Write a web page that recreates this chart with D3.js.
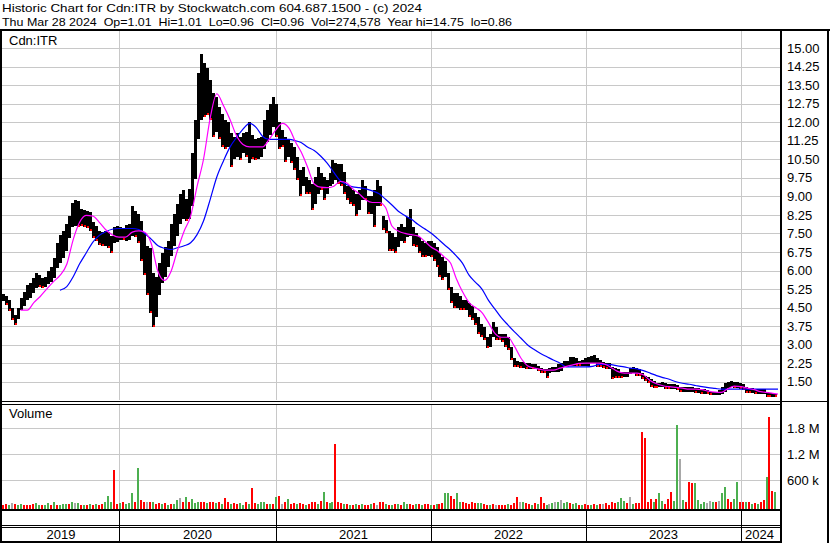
<!DOCTYPE html>
<html>
<head>
<meta charset="utf-8">
<script src="https://cdn.jsdelivr.net/npm/d3@7"></script>
<style>
  body { margin: 0; background: #fff; }
  text { font-family: Arial, "Liberation Sans", sans-serif; font-size: 13px; fill: #000; }
  text.head { font-size: 11.5px; }
</style>
</head>
<body>
<div id="chart"></div>
<script>
// Header texts
var title1 = "Historic Chart for Cdn:ITR by Stockwatch.com 604.687.1500 - (c) 2024";
var title2 = "Thu Mar 28 2024  Op=1.01  Hi=1.01  Lo=0.96  Cl=0.96  Vol=274,578  Year hi=14.75  lo=0.86";

// Axis ticks
var priceTicks = [15, 14.25, 13.5, 12.75, 12, 11.25, 10.5, 9.75, 9, 8.25, 7.5, 6.75, 6, 5.25, 4.5, 3.75, 3, 2.25, 1.5];
var volTicks = [600000, 1200000, 1800000];
var years = [2019, 2020, 2021, 2022, 2023, 2024];

// Weekly bars: [high, low, volume (thousands), volume colour r/g/n]
var weeks2019 = [
  [5.05,4.75,40,"r"],[4.95,4.6,60,"r"],[4.8,4.35,30,"g"],[4.5,4.0,85,"n"],[4.2,3.8,50,"r"],
  [4.5,4.05,30,"g"],[4.9,4.4,45,"g"],[5.15,4.55,25,"r"],[5.4,4.8,35,"r"],[5.5,4.9,40,"r"],
  [5.7,5.1,60,"r"],[5.9,5.3,85,"g"],[5.8,5.35,30,"g"],[5.7,5.3,25,"r"],[5.75,5.35,20,"g"],
  [6.0,5.45,70,"g"],[6.15,5.55,30,"r"],[6.5,5.7,105,"g"],[7.1,6.1,40,"r"],[7.45,6.3,35,"g"],
  [7.6,6.5,45,"g"],[7.9,6.8,60,"g"],[8.2,7.3,55,"r"],[8.75,7.75,100,"g"],[8.85,7.8,80,"n"],
  [8.8,7.75,75,"g"],[8.5,7.8,30,"r"],[8.45,7.75,25,"g"],[8.4,7.7,30,"r"],[8.35,7.6,45,"g"],
  [7.95,7.3,40,"r"],[7.8,7.2,45,"g"],[7.6,7.05,40,"r"],[7.55,7.0,60,"r"],[7.6,7.0,100,"g"],
  [7.55,6.9,240,"g"],[7.4,6.7,90,"g"],[7.75,7.1,840,"r"],[7.8,7.15,60,"r"]
];
var weeks2020 = [
  [7.75,7.25,70,"g"],[7.7,7.25,100,"r"],[7.85,7.2,60,"g"],[7.9,7.25,80,"g"],[8.6,7.4,300,"g"],
  [8.4,7.35,110,"r"],[8.3,7.1,880,"g"],[8.0,6.4,150,"r"],[7.5,5.8,100,"r"],[7.0,5.0,90,"n"],
  [6.9,4.3,110,"r"],[5.9,3.73,90,"g"],[5.75,4.1,60,"r"],[6.3,5.0,70,"r"],[6.7,5.5,50,"g"],
  [6.95,5.75,80,"r"],[7.2,6.15,40,"g"],[7.9,6.6,55,"r"],[8.3,7.0,60,"g"],[8.7,7.4,150,"g"],
  [9.1,7.9,190,"n"],[9.25,8.1,110,"r"],[8.9,8.0,220,"g"],[9.3,8.1,100,"r"],[10.75,8.6,160,"g"],
  [12.1,9.7,80,"g"],[14.0,11.3,100,"g"],[14.75,12.1,90,"r"],[14.4,12.2,110,"r"],[14.2,12.3,80,"g"],
  [13.7,12.1,110,"r"],[13.2,11.4,90,"r"],[13.0,11.6,70,"g"],[12.6,11.3,100,"r"],[12.35,11.0,60,"g"],
  [12.1,10.9,200,"r"],[12.0,11.0,90,"r"],[11.55,10.2,60,"g"],[11.4,10.5,70,"r"],[11.55,10.6,60,"r"],
  [11.4,10.45,70,"g"],[11.55,10.75,40,"g"],[11.6,10.6,110,"r"],[12.0,10.35,60,"g"],[11.5,10.5,430,"r"],
  [11.3,10.45,70,"r"],[11.35,10.5,60,"g"],[11.4,10.6,100,"g"],[12.1,10.9,90,"g"],[12.5,11.2,60,"r"],
  [12.75,11.5,50,"g"],[13.0,11.8,60,"r"]
];
var weeks2021 = [
  [12.75,11.4,220,"g"],[12.0,10.9,240,"r"],[11.7,11.0,60,"n"],[11.4,10.4,100,"r"],[11.3,10.6,175,"g"],
  [11.15,10.35,60,"r"],[11.0,10.05,80,"r"],[10.6,9.65,50,"g"],[10.05,9.0,70,"r"],[10.2,9.4,50,"r"],
  [9.8,9.1,40,"g"],[9.65,9.1,60,"r"],[9.5,8.45,100,"r"],[9.8,8.7,90,"r"],[10.2,9.1,60,"g"],
  [9.95,9.25,120,"r"],[9.8,8.85,340,"g"],[9.65,9.1,100,"r"],[9.95,9.4,80,"g"],[10.45,9.5,110,"g"],
  [10.35,9.65,1440,"r"],[10.3,9.5,110,"r"],[10.3,9.4,70,"r"],[10.0,9.1,60,"g"],[9.4,8.85,45,"r"],
  [9.4,8.7,40,"g"],[9.25,8.6,35,"r"],[9.1,8.2,50,"g"],[9.25,8.45,40,"r"],[9.65,8.85,60,"g"],
  [9.4,8.85,40,"r"],[9.0,8.3,35,"r"],[9.0,8.3,60,"g"],[9.25,7.77,70,"r"],[9.65,8.6,40,"n"],
  [9.4,8.6,110,"r"],[8.2,7.65,100,"r"],[8.05,7.5,60,"g"],[7.6,6.8,40,"r"],[7.5,6.8,40,"g"],
  [7.35,6.7,60,"r"],[7.75,6.95,45,"g"],[7.9,7.2,40,"r"],[7.75,7.1,90,"g"],[8.15,7.35,60,"g"],
  [8.5,7.4,60,"r"],[7.75,7.0,40,"r"],[7.5,6.95,60,"g"],[7.35,6.7,45,"r"],[7.2,6.55,40,"g"],
  [7.1,6.55,60,"r"],[7.2,6.6,50,"r"],[7.2,6.55,40,"g"]
];
var weeks2022 = [
  [7.1,6.4,40,"r"],[6.95,6.15,55,"g"],[6.7,5.75,50,"r"],[6.55,5.6,80,"r"],[6.4,5.75,300,"g"],
  [5.9,5.2,310,"g"],[5.35,4.7,240,"r"],[5.1,4.5,180,"r"],[5.1,4.5,310,"g"],[4.95,4.4,90,"g"],
  [4.8,4.4,100,"r"],[4.8,4.4,70,"r"],[4.7,4.1,60,"r"],[4.55,4.0,90,"r"],[4.3,3.8,80,"r"],
  [4.1,3.45,70,"g"],[3.85,3.3,80,"g"],[3.7,3.2,50,"r"],[3.3,2.85,40,"r"],[3.45,2.9,30,"g"],
  [3.9,3.3,50,"r"],[3.7,3.2,40,"n"],[3.45,3.2,35,"r"],[3.45,3.1,40,"r"],[3.45,2.9,30,"r"],
  [3.3,2.8,50,"g"],[2.9,2.4,40,"r"],[2.45,2.1,80,"r"],[2.35,2.1,220,"r"],[2.3,2.05,100,"n"],
  [2.3,2.05,90,"g"],[2.25,2.0,70,"r"],[2.25,2.0,60,"r"],[2.2,2.0,40,"g"],[2.2,2.0,80,"r"],
  [2.15,1.95,60,"g"],[2.05,1.85,210,"r"],[2.0,1.85,70,"r"],[2.0,1.65,40,"g"],[2.05,1.85,60,"n"],
  [2.1,1.9,70,"g"],[2.1,1.9,110,"n"],[2.2,1.9,110,"g"],[2.25,1.95,140,"n"],[2.35,2.1,80,"g"],
  [2.35,2.1,90,"g"],[2.5,2.15,70,"r"],[2.5,2.15,50,"g"],[2.45,2.15,70,"g"],[2.35,2.15,40,"r"],
  [2.4,2.15,30,"g"],[2.45,2.15,50,"r"]
];
var weeks2023 = [
  [2.5,2.15,40,"r"],[2.55,2.25,30,"g"],[2.6,2.25,50,"r"],[2.45,2.1,40,"g"],[2.4,2.1,50,"r"],
  [2.3,2.05,60,"n"],[2.25,2.0,70,"r"],[2.25,2.0,40,"r"],[2.1,1.6,110,"r"],[2.05,1.65,80,"r"],
  [2.0,1.65,100,"g"],[1.9,1.65,190,"g"],[1.9,1.7,120,"g"],[1.9,1.7,70,"r"],[2.05,1.8,215,"n"],
  [2.1,1.85,60,"g"],[2.05,1.75,70,"r"],[2.0,1.75,80,"r"],[1.85,1.6,1720,"r"],[1.75,1.55,1580,"r"],
  [1.7,1.45,100,"r"],[1.6,1.3,180,"r"],[1.55,1.25,110,"g"],[1.45,1.25,160,"r"],[1.45,1.3,310,"g"],
  [1.5,1.3,120,"g"],[1.45,1.2,60,"r"],[1.4,1.2,180,"r"],[1.4,1.2,330,"r"],[1.4,1.2,130,"g"],
  [1.35,1.15,1880,"g"],[1.3,1.1,1090,"n"],[1.3,1.1,150,"g"],[1.3,1.1,100,"r"],[1.3,1.1,565,"r"],
  [1.3,1.1,540,"r"],[1.25,1.05,540,"g"],[1.25,1.05,150,"g"],[1.2,1.0,60,"g"],[1.2,1.0,100,"g"],
  [1.15,1.0,80,"n"],[1.1,0.95,120,"n"],[1.1,0.95,100,"g"],[1.1,0.95,90,"r"],[1.15,0.95,120,"n"],
  [1.3,1.0,310,"g"],[1.45,1.1,450,"g"],[1.5,1.25,170,"r"],[1.55,1.3,110,"r"],[1.5,1.25,170,"g"],
  [1.5,1.25,560,"g"],[1.45,1.2,100,"r"]
];
var weeks2024 = [
  [1.4,1.15,110,"r"],[1.3,1.05,100,"g"],[1.25,1.05,90,"r"],[1.25,1.05,60,"g"],[1.2,1.0,80,"r"],
  [1.2,1.0,60,"g"],[1.2,1.0,110,"r"],[1.2,1.0,150,"r"],[1.1,0.9,680,"g"],[1.05,0.9,2070,"r"],
  [1.05,0.9,350,"r"],[1.01,0.9,320,"g"]
];

// Moving averages, read twice a month (1st and 16th) from May 2019, last point Mar 28 2024
var maShort = [
  null,4.4,4.4,4.7,4.95,5.25,5.55,5.8,6.25,7.25,7.95,8.23,8.2,7.95,7.65,7.45,
  7.35,7.35,7.55,7.6,7.55,7.1,5.95,5.6,5.95,6.8,7.6,8.2,9.4,10.5,12.2,13.15,12.65,12.1,11.45,11.1,11.0,11.0,11.0,11.3,
  11.7,11.95,11.75,11.2,10.8,10.2,9.5,9.37,9.35,9.4,9.6,9.55,9.3,9.1,8.85,8.75,8.75,8.55,7.8,7.6,7.5,7.45,7.4,7.2,
  6.95,6.8,6.55,6.3,5.7,5.15,4.7,4.5,4.3,3.9,3.45,3.3,3.3,2.95,2.45,2.15,2.05,2.0,1.97,1.97,2.05,2.12,2.18,2.24,
  2.25,2.25,2.25,2.2,2.08,1.92,1.85,1.85,1.85,1.78,1.55,1.42,1.34,1.3,1.27,1.24,1.2,1.2,1.18,1.12,1.08,1.07,1.22,1.32,
  1.3,1.24,1.18,1.1,1.07,1.03,1.0
];
var maLong = [
  null,null,null,null,null,null,null,5.2,5.35,5.75,6.27,6.7,7.15,7.42,7.57,7.67,
  7.7,7.7,7.7,7.66,7.5,7.27,7.0,6.9,6.85,6.92,7.0,7.12,7.45,8.0,8.9,9.78,10.45,11.0,11.38,11.72,11.95,11.78,11.42,11.3,
  11.3,11.3,11.3,11.25,11.18,11.0,10.85,10.63,10.35,10.0,9.64,9.48,9.38,9.35,9.3,9.22,9.1,8.88,8.65,8.4,8.22,8.07,7.87,7.7,
  7.52,7.3,7.05,6.83,6.6,6.3,5.8,5.52,5.25,4.8,4.43,4.08,3.8,3.53,3.26,3.0,2.8,2.64,2.51,2.38,2.25,2.1,2.1,2.1,
  2.1,2.12,2.2,2.2,2.19,2.14,2.1,2.05,2.02,1.95,1.85,1.75,1.67,1.6,1.5,1.44,1.4,1.35,1.3,1.26,1.23,1.2,1.2,1.2,
  1.2,1.2,1.2,1.2,1.2,1.2,1.2
];

var startDate = new Date(2019, 3, 5);
var endDate = new Date(2024, 2, 28);

// Build weekly records (bars dated on Fridays)
function weekRows(rows, from, to) {
  var dates = d3.timeFriday.range(from, to);
  return rows.map(function(r, i) {
    return { date: dates[i], hi: r[0], lo: r[1], vol: r[2] * 1000, c: r[3] };
  });
}
var bars = [].concat(
  weekRows(weeks2019, startDate, new Date(2020, 0, 1)),
  weekRows(weeks2020, new Date(2020, 0, 1), new Date(2021, 0, 1)),
  weekRows(weeks2021, new Date(2021, 0, 1), new Date(2022, 0, 1)),
  weekRows(weeks2022, new Date(2022, 0, 1), new Date(2023, 0, 1)),
  weekRows(weeks2023, new Date(2023, 0, 1), new Date(2024, 0, 1)),
  weekRows(weeks2024, new Date(2024, 0, 1), new Date(2024, 2, 29))
);

var maDates = d3.timeMonth.range(new Date(2019, 4, 1), new Date(2024, 3, 1))
  .flatMap(function(m) { return [m, d3.timeDay.offset(m, 15)]; })
  .filter(function(d) { return d < endDate; });
maDates.push(endDate);
var shortPts = maDates.map(function(d, i) { return { date: d, v: maShort[i] }; });
var longPts = maDates.map(function(d, i) { return { date: d, v: maLong[i] }; });

// Layout
var W = 830, H = 543;
var plotL = 2, plotR = 780;
var priceTop = 31, priceBot = 400;
var volTop = 405, volBot = 509;

var svg = d3.select("#chart").append("svg")
  .attr("width", W).attr("height", H)
  .style("display", "block");

svg.append("rect").attr("width", W).attr("height", H).attr("fill", "#fff");

// Scales
var yearStarts = years.slice(1).map(function(y) { return new Date(y, 0, 1); });
var x = d3.scaleTime()
  .domain([startDate].concat(yearStarts, [endDate]))
  .range([3, 119, 276, 431, 586, 741, 778]);
var y = d3.scaleLinear().domain([0.75, 15]).range([400.3, 48]);
var yv = d3.scaleLinear().domain([0, 2400000]).range([506.3, 402.3]);

// Grid lines
var grid = svg.append("g").attr("shape-rendering", "crispEdges");

grid.append("g")
  .attr("transform", "translate(" + plotR + ",0)")
  .call(d3.axisLeft(y).tickValues(priceTicks).tickSize(plotR - plotL).tickFormat(""))
  .call(function(g) { g.select(".domain").remove(); })
  .selectAll("line").attr("stroke", "#c8c8c8");

grid.append("g")
  .attr("transform", "translate(" + plotR + ",0)")
  .call(d3.axisLeft(yv).tickValues(volTicks).tickSize(plotR - plotL).tickFormat(""))
  .call(function(g) { g.select(".domain").remove(); })
  .selectAll("line").attr("stroke", "#c8c8c8");

grid.selectAll(".vgp").data(yearStarts).join("line")
  .attr("x1", function(d) { return Math.round(x(d)) + 0.5; })
  .attr("x2", function(d) { return Math.round(x(d)) + 0.5; })
  .attr("y1", priceTop).attr("y2", priceBot)
  .attr("stroke", "#c8c8c8");
grid.selectAll(".vgv").data(yearStarts).join("line")
  .attr("x1", function(d) { return Math.round(x(d)) + 0.5; })
  .attr("x2", function(d) { return Math.round(x(d)) + 0.5; })
  .attr("y1", volTop).attr("y2", volBot)
  .attr("stroke", "#c8c8c8");

// Price bars
var priceG = svg.append("g").attr("shape-rendering", "crispEdges");
priceG.selectAll("rect").data(bars).join("rect")
  .attr("x", function(d) { return Math.round(x(d.date)) - 1; })
  .attr("width", 3)
  .attr("y", function(d) { return y(d.hi); })
  .attr("height", function(d) { return Math.max(1, y(d.lo) - y(d.hi)); })
  .attr("fill", "#000");

// red close marks on falling weeks
var downBars = bars.filter(function(d, i) {
  return i > 0 && (d.hi + d.lo) < (bars[i - 1].hi + bars[i - 1].lo);
});
priceG.selectAll(".dn").data(downBars).join("rect")
  .attr("class", "dn")
  .attr("x", function(d) { return Math.round(x(d.date)); })
  .attr("width", 2)
  .attr("y", function(d) { return Math.round(y(d.lo)) - 2; })
  .attr("height", 2)
  .attr("fill", "#ff0000");

// Moving averages
var maLine = d3.line()
  .defined(function(d) { return d.v != null; })
  .x(function(d) { return x(d.date); })
  .y(function(d) { return y(d.v); })
  .curve(d3.curveMonotoneX);

svg.append("path").datum(longPts)
  .attr("d", maLine).attr("fill", "none")
  .attr("stroke", "#0000ff").attr("stroke-width", 1.2);
svg.append("path").datum(shortPts)
  .attr("d", maLine).attr("fill", "none")
  .attr("stroke", "#ff00ff").attr("stroke-width", 1.2);

// Volume bars
var volColor = { r: "#ff0000", g: "#4caf50", n: "#a8a8a8" };
svg.append("g").attr("shape-rendering", "crispEdges")
  .selectAll("rect").data(bars).join("rect")
  .attr("x", function(d) { return Math.round(x(d.date)) - 1; })
  .attr("width", 2)
  .attr("y", function(d) { return yv(d.vol); })
  .attr("height", function(d) { return volBot - yv(d.vol); })
  .attr("fill", function(d) { return volColor[d.c]; });

// Right axes
svg.append("g")
  .attr("transform", "translate(782,0)")
  .call(d3.axisRight(y).tickValues(priceTicks).tickSize(0).tickPadding(5).tickFormat(d3.format(".2f")))
  .call(function(g) { g.select(".domain").remove(); });

svg.append("g")
  .attr("transform", "translate(782,0)")
  .call(d3.axisRight(yv).tickValues(volTicks).tickSize(0).tickPadding(5)
    .tickFormat(function(d) { return d >= 1e6 ? (d / 1e6).toFixed(1) + " M" : (d / 1e3) + " k"; }))
  .call(function(g) { g.select(".domain").remove(); });

// Frame
var frame = svg.append("g").attr("shape-rendering", "crispEdges").attr("fill", "#000");
function box(x0, y0, w, h) { frame.append("rect").attr("x", x0).attr("y", y0).attr("width", w).attr("height", h); }
box(0, 29, W, 2);          // under header
box(0, 29, 2, H - 29);     // left
box(780, 29, 2, H - 29);   // plot right
box(827, 29, 2, H - 29);   // outer right
box(0, 401, 782, 1);       // price / volume split
box(0, 404, 782, 1);
box(782, 401, 45, 1);
box(0, 509, 782, 2);       // volume bottom
box(0, 525, 782, 1);       // axis double line
box(0, 527, 782, 1);
box(0, 541, 782, 2);       // bottom

svg.append("g").attr("shape-rendering", "crispEdges")
  .selectAll("line").data(yearStarts).join("line")
  .attr("x1", function(d) { return Math.round(x(d)) + 0.5; })
  .attr("x2", function(d) { return Math.round(x(d)) + 0.5; })
  .attr("y1", 511).attr("y2", 541)
  .attr("stroke", "#000");

// Year labels centred in their span
svg.append("g").selectAll("text").data(years).join("text")
  .attr("x", function(yr) {
    var a = d3.max([startDate, new Date(yr, 0, 1)]);
    var b = d3.min([endDate, new Date(yr + 1, 0, 1)]);
    return (x(a) + x(b)) / 2;
  })
  .attr("y", 539)
  .attr("text-anchor", "middle")
  .text(function(yr) { return yr; });

// Texts
svg.append("text").attr("class", "head").attr("x", 2).attr("y", 12)
  .attr("textLength", 420).attr("lengthAdjust", "spacingAndGlyphs")
  .style("white-space", "pre").text(title1);
svg.append("text").attr("class", "head").attr("x", 2).attr("y", 25.5)
  .attr("textLength", 510).attr("lengthAdjust", "spacingAndGlyphs")
  .style("white-space", "pre").text(title2);
svg.append("text").attr("x", 9).attr("y", 45).text("Cdn:ITR");
svg.append("text").attr("x", 9).attr("y", 418).text("Volume");
</script>
</body>
</html>
